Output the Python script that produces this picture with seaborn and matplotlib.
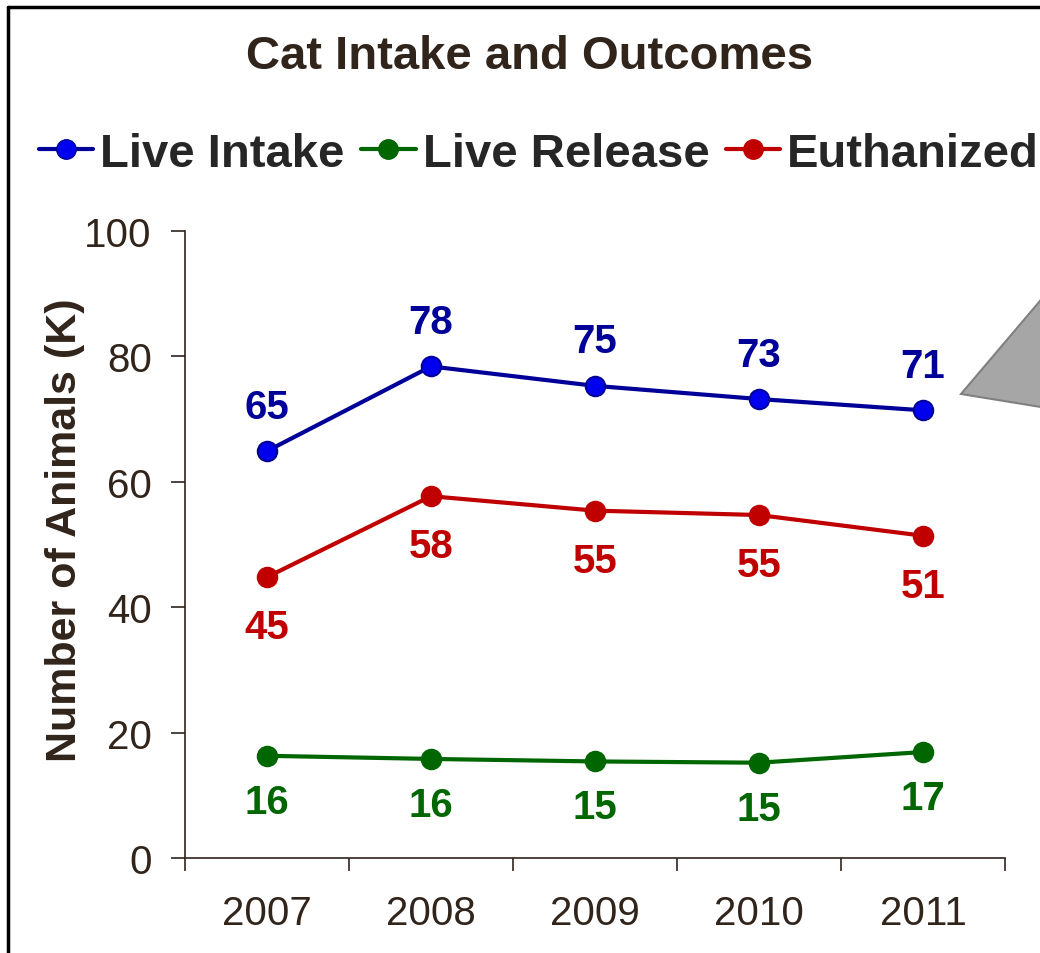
import pandas as pd
import matplotlib.pyplot as plt
import seaborn as sns
from matplotlib.lines import Line2D
from matplotlib.patches import Polygon

# data (thousands of animals)
years = [2007, 2008, 2009, 2010, 2011]
live_intake = [64.9, 78.4, 75.3, 73.2, 71.4]
live_release = [16.3, 15.8, 15.4, 15.2, 16.9]
euthanized = [44.8, 57.7, 55.4, 54.7, 51.4]
series_names = ["Live Intake", "Live Release", "Euthanized"]

BROWN = "#30241b"
colors = {"Live Intake": "#000099", "Live Release": "#006600", "Euthanized": "#c00000"}
faces = {"Live Intake": "#0000ee", "Live Release": "#006600", "Euthanized": "#c00000"}
label_off = {"Live Intake": 32, "Live Release": -33, "Euthanized": -36}

sns.set_theme(style="white")
plt.rcParams["font.family"] = ["Liberation Sans", "DejaVu Sans"]

df = pd.DataFrame({
    "year": years * 3,
    "value": live_intake + live_release + euthanized,
    "series": [s for s in series_names for _ in years],
})

fig = plt.figure(figsize=(10.4, 9.54), dpi=100)
ax = fig.add_axes([185 / 1040, 1 - 859 / 954, 820 / 1040, 627 / 954])

sns.lineplot(data=df, x="year", y="value", hue="series", palette=colors,
             linewidth=3, legend=False, ax=ax)
for name in series_names:
    sub = df[df["series"] == name]
    ax.plot(sub["year"], sub["value"], "o", ms=14, mfc=faces[name],
            mec=colors[name], mew=1.5, zorder=4)
    for x, y in zip(sub["year"], sub["value"]):
        ax.annotate(f"{y:.0f}", (x, y), xytext=(0, label_off[name]),
                    textcoords="offset points", ha="center", va="center",
                    fontsize=29, fontweight="bold", color=colors[name])

ax.set_xlim(2006.5, 2011.5)
ax.set_ylim(0, 100)
ax.set_yticks(range(0, 101, 20))
ax.set_xticks([y - 0.5 for y in years] + [2011.5])
ax.set_xticklabels([])
ax.set_xticks(years, minor=True)
ax.set_xticklabels([str(y) for y in years], minor=True)
ax.tick_params(axis="x", which="major", length=9, width=1.2, color=BROWN, direction="out", bottom=True)
ax.tick_params(axis="x", which="minor", length=0, pad=26, labelsize=29, labelcolor=BROWN)
ax.tick_params(axis="y", length=10, width=1.2, color=BROWN, direction="out", left=True,
               labelsize=29, labelcolor=BROWN, pad=14)
ax.set_xlabel("")
ax.set_ylabel("Number of Animals (K)", fontsize=31, fontweight="bold", color=BROWN)
ax.yaxis.set_label_coords(-0.122, 0.525)
sns.despine(ax=ax)
for side in ["left", "bottom"]:
    ax.spines[side].set_color(BROWN)
    ax.spines[side].set_linewidth(1.2)

fig.text(530 / 1040, 1 - 57 / 954, "Cat Intake and Outcomes", ha="center", va="center",
         fontsize=34, fontweight="bold", color=BROWN)

handles = [Line2D([], [], color=colors[n], lw=3, marker="o", ms=14, mfc=faces[n],
                  mec=colors[n]) for n in series_names]
fig.legend(handles, series_names, loc="center left", ncol=3,
           bbox_to_anchor=(39 / 1040, 1 - 155 / 954), bbox_transform=fig.transFigure,
           frameon=False, borderpad=0, borderaxespad=0, handlelength=1.15,
           handletextpad=0.15, columnspacing=0.35,
           prop={"size": 34, "weight": "bold"})

# gray callout pointer at the right edge
tri = [(961, 395), (1090, 243), (1090, 416)]
fig.patches.append(Polygon([(x / 1040, 1 - y / 954) for x, y in tri], closed=True,
                           transform=fig.transFigure, facecolor="#a6a6a6",
                           edgecolor="#808080", lw=1.5))

# frame (left and top edges visible)
fig.add_artist(Line2D([8 / 1040, 8 / 1040], [0, 1 - 8 / 954], color="black", lw=2.5,
                      transform=fig.transFigure))
fig.add_artist(Line2D([8 / 1040, 1], [1 - 8 / 954, 1 - 8 / 954], color="black", lw=2.5,
                      transform=fig.transFigure))

fig.savefig("out.png", dpi=100)
